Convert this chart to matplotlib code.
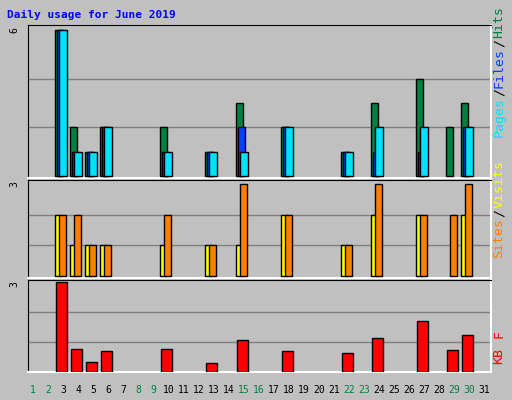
import numpy as np
import matplotlib
matplotlib.use('Agg')
import matplotlib.pyplot as plt

days = list(range(1, 31))
active = [3, 4, 5, 6, 10, 13, 15, 18, 22, 24, 27, 29, 30]
hits = [6, 2, 1, 2, 2, 1, 3, 2, 1, 3, 4, 2, 3]
files = [6, 1, 1, 2, 1, 1, 2, 2, 1, 1, 1, 0, 2]
pages = [6, 1, 1, 2, 1, 1, 1, 2, 1, 2, 2, 0, 2]
sites = [2, 1, 1, 1, 1, 1, 1, 2, 1, 2, 2, 0, 2]
visits = [2, 2, 1, 1, 2, 1, 3, 2, 1, 3, 2, 2, 3]
kbytes = [3.0, 0.76, 0.34, 0.69, 0.76, 0.31, 1.07, 0.69, 0.62, 1.14, 1.69, 0.72, 1.24]
weekend = [1, 2, 8, 9, 15, 16, 22, 23, 29, 30]

W, H = 512, 400
fig = plt.figure(figsize=(W / 100, H / 100), dpi=100)
fig.patch.set_facecolor('#c0c0c0')
mono = 'DejaVu Sans Mono'


def px(x):
    return (x - 33) / 15.04 + 1


def make_ax(top, bottom):
    ax = fig.add_axes([28 / W, 1 - bottom / H, (491 - 28) / W, (bottom - top) / H])
    ax.set_facecolor('#c0c0c0')
    ax.set_xlim(px(28), px(491))
    ax.set_xticks([])
    ax.set_yticks([])
    for s in ['left', 'top']:
        ax.spines[s].set_color('black')
    for s in ['right', 'bottom']:
        ax.spines[s].set_color('white')
        ax.spines[s].set_linewidth(1.5)
    return ax


def bars(ax, vals, color, l, r):
    x = np.array(active) + (l + r) / 2 / 15.04
    v = np.array(vals, dtype=float)
    m = v > 0
    ax.bar(x[m], v[m], width=(r - l) / 15.04, color=color, edgecolor='black',
           linewidth=1, zorder=3)


ax1 = make_ax(25, 178)
ax1.set_ylim(-0.08, 6.2)
for g in [2, 4]:
    ax1.axhline(g, color='#808080', lw=1, zorder=1)
bars(ax1, hits, '#008040', -8, -1)
bars(ax1, files, '#0040ff', -6, 1)
bars(ax1, pages, '#00e0ff', -4, 4)

ax2 = make_ax(180, 278)
ax2.set_ylim(-0.06, 3.12)
for g in [1, 2]:
    ax2.axhline(g, color='#808080', lw=1, zorder=1)
bars(ax2, sites, '#ffff00', -8, -2)
bars(ax2, visits, '#ff8000', -4, 3)

ax3 = make_ax(280, 372)
ax3.set_ylim(0, 3.05)
for g in [1, 2]:
    ax3.axhline(g, color='#808080', lw=1, zorder=1)
bars(ax3, kbytes, '#ff0000', -7, 4)

fig.text(7 / W, 1 - 15 / H, 'Daily usage for June 2019', color='#0000ff',
         fontsize=8, fontweight='bold', family=mono, va='center')
for y, lab in [(30, '6'), (184, '3'), (284, '3')]:
    fig.text(14 / W, 1 - y / H, lab, fontsize=7, family=mono, rotation=90,
             ha='center', va='center')

for d in range(1, 32):
    fig.text((33 + (d - 1) * 15.04) / W, 1 - 390 / H, str(d), fontsize=7,
             family=mono, ha='center', va='center',
             color='#008040' if d in weekend else 'black')

FS = 9.5


def side(parts, ybot):
    y = ybot
    for t, c in parts:
        fig.text(499 / W, 1 - y / H, t, color=c, fontsize=FS, family=mono,
                 rotation=90, ha='center', va='bottom')
        y -= len(t) * 0.6 * FS * 100 / 72 + 1


side([('Pages', '#00e0ff'), ('/', 'black'), ('Files', '#0040ff'),
      ('/', 'black'), ('Hits', '#008040')], 137)
side([('Sites', '#ff8000'), ('/', 'black'), ('Visits', '#ffff00')], 258)
side([('KB', '#ff0000'), (' ', 'black'), ('F', '#ff0000')], 364)

fig.savefig('out.png', dpi=100, facecolor=fig.get_facecolor())
